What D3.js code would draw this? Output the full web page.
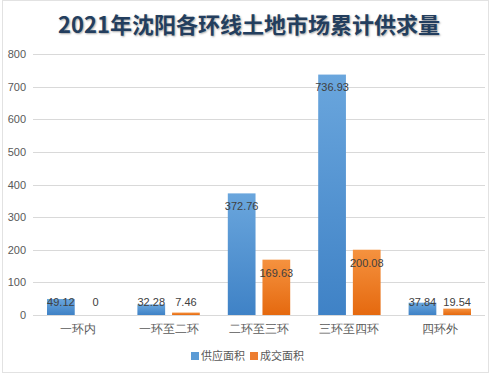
<!DOCTYPE html>
<html>
<head>
<meta charset="utf-8">
<script src="https://cdn.jsdelivr.net/npm/d3@7"></script>
<style>
  body { margin: 0; background: #fff; }
  svg { font-family: "Noto Sans CJK SC", "DejaVu Sans", sans-serif; }
</style>
</head>
<body>
<svg id="chart" width="499" height="374"></svg>
<script>
const categories = ['一环内', '一环至二环', '二环至三环', '三环至四环', '四环外'];
const seriesNames = ['供应面积', '成交面积'];
const supply = [49.12, 32.28, 372.76, 736.93, 37.84];
const deal = [0, 7.46, 169.63, 200.08, 19.54];
const yTicks = [0, 100, 200, 300, 400, 500, 600, 700, 800];

const svg = d3.select('#chart');
const colors = ['#5b9bd5', '#ed7d31'];

// gradients like the office style bars
const defs = svg.append('defs');
const grads = [['gBlue', '#6aa6dd', '#3f82c6'], ['gOrange', '#f5923f', '#e5690f']];
grads.forEach(([id, c1, c2]) => {
    const g = defs.append('linearGradient').attr('id', id).attr('x1', 0).attr('x2', 0).attr('y1', 0).attr('y2', 1);
    g.append('stop').attr('offset', '0%').attr('stop-color', c1);
    g.append('stop').attr('offset', '100%').attr('stop-color', c2);
});

// outer frame
svg.append('rect')
    .attr('x', 2.5).attr('y', 0.5).attr('width', 486).attr('height', 372)
    .attr('fill', 'none').attr('stroke', '#e2e2e2');

svg.append('text')
    .attr('x', 249).attr('y', 33)
    .attr('text-anchor', 'middle')
    .attr('font-size', 22).attr('font-weight', 'bold')
    .attr('fill', '#233e5e')
    .style('text-shadow', '1px 1px 2px rgba(0,0,0,0.35)')
    .text('2021年沈阳各环线土地市场累计供求量');

const x = d3.scaleBand().domain(categories).range([33, 485]);
const x1 = d3.scaleBand().domain(seriesNames).range([14, x.bandwidth() - 14]).paddingInner(0.2);
const y = d3.scaleLinear().domain([0, 800]).range([315, 54]);

// grid
svg.append('g')
    .selectAll('line')
    .data(yTicks)
    .enter()
    .append('line')
    .attr('x1', 33).attr('x2', 485)
    .attr('y1', d => Math.round(y(d)) + 0.5).attr('y2', d => Math.round(y(d)) + 0.5)
    .attr('stroke', '#d9d9d9');

const yAxis = svg.append('g')
    .attr('transform', 'translate(26,0)')
    .call(d3.axisLeft(y).tickValues(yTicks).tickSize(0).tickPadding(0));
yAxis.select('.domain').remove();
yAxis.selectAll('text').attr('font-size', 11).attr('fill', '#595959')
    .attr('font-family', '"Liberation Sans", sans-serif');

const xAxis = svg.append('g')
    .attr('transform', 'translate(0,315)')
    .call(d3.axisBottom(x).tickSize(0).tickPadding(10));
xAxis.select('.domain').remove();
xAxis.selectAll('text').attr('font-size', 11.5).attr('fill', '#595959');

const rows = categories.map((c, i) => ({ cat: c, vals: [supply[i], deal[i]] }));
const groups = svg.append('g')
    .selectAll('g')
    .data(rows)
    .enter()
    .append('g')
    .attr('transform', d => `translate(${x(d.cat)},0)`);

groups.selectAll('rect')
    .data(d => d.vals.map((v, j) => ({ name: seriesNames[j], v, j })))
    .enter()
    .append('rect')
    .attr('x', d => x1(d.name))
    .attr('width', x1.bandwidth())
    .attr('y', d => y(d.v))
    .attr('height', d => y(0) - y(d.v))
    .attr('fill', d => d.j === 0 ? 'url(#gBlue)' : 'url(#gOrange)');

groups.selectAll('text.lbl')
    .data(d => d.vals.map((v, j) => ({ name: seriesNames[j], v, j })))
    .enter()
    .append('text')
    .attr('class', 'lbl')
    .attr('x', d => x1(d.name) + x1.bandwidth() / 2)
    .attr('y', d => Math.min(y(d.v) + 13, 302))
    .attr('dy', '0.35em')
    .attr('text-anchor', 'middle')
    .attr('font-size', 11)
    .attr('font-family', '"Liberation Sans", sans-serif')
    .attr('fill', '#404040')
    .text(d => d.v);

// legend
const legend = svg.append('g').attr('transform', 'translate(191,356)');
const items = [[0, 0], [1, 59]];
items.forEach(([j, off]) => {
    legend.append('rect').attr('x', off).attr('y', -4).attr('width', 8).attr('height', 8).attr('fill', colors[j]);
    legend.append('text').attr('x', off + 10).attr('y', 0).attr('dy', '0.35em')
        .attr('font-size', 11).attr('fill', '#595959').text(seriesNames[j]);
});
</script>
</body>
</html>
